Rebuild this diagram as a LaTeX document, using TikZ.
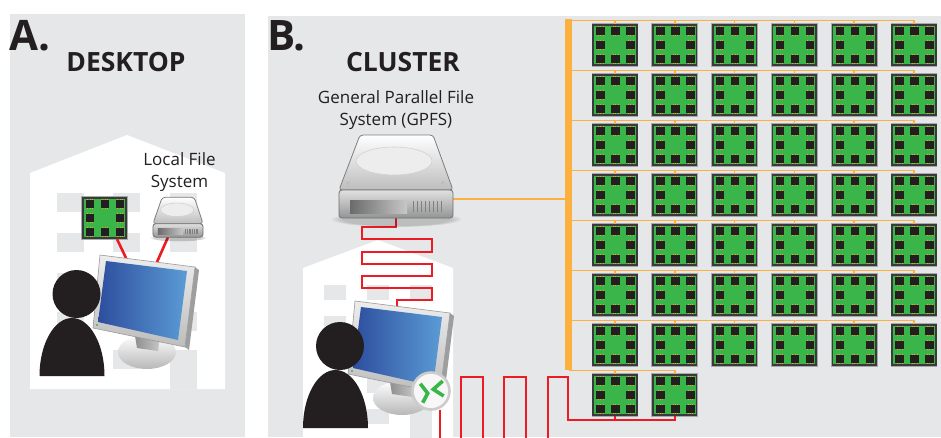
\documentclass[tikz,border=0pt]{standalone}
\usepackage{fontspec}
\setmainfont{Open Sans}
\usetikzlibrary{calc,fadings}

\definecolor{panel}{HTML}{E6E7E8}
\definecolor{ink}{HTML}{231F20}
\definecolor{chipgreen}{HTML}{39B54A}
\definecolor{chipedge}{HTML}{3A3A3A}
\definecolor{chiphalo}{HTML}{A7A9AC}
\definecolor{pinorange}{HTML}{F6A21E}
\definecolor{busorange}{HTML}{FBB040}
\definecolor{wirered}{HTML}{ED1C24}
\definecolor{scrdark}{HTML}{2D4E9E}
\definecolor{scrlight}{HTML}{5B9BD5}
\definecolor{framelight}{HTML}{EDEDED}
\definecolor{framedark}{HTML}{BDBDBD}
\definecolor{frameedge}{HTML}{9A9A9A}
\definecolor{sidegray}{HTML}{9E9E9E}
\definecolor{diskedge}{HTML}{7E7E7E}

\tikzset{
  chipbox/.style={draw=chipedge, line width=1.6pt, fill=chipgreen,
    minimum width=43.5pt, minimum height=40.5pt, inner sep=0pt,
    preaction={draw=chiphalo, line width=3.4pt},
    path picture={
      \begin{scope}[shift={(path picture bounding box.center)}]
        \foreach \i/\j in {-14.5/-14, 0.5/-14, 15.5/-14, -14.5/0, 15.5/0,
                           -14.5/14, 0.5/14, 15.5/14} {
          \fill[ink] (\i-4.2,\j-4) rectangle (\i+4.2,\j+4);
          \foreach \p in {-2.4,0,2.4} {
            \draw[pinorange, line width=0.6pt] (\i+\p,\j-4) -- (\i+\p,\j-5.3);
            \draw[pinorange, line width=0.6pt] (\i+\p,\j+4) -- (\i+\p,\j+5.3);
          }
        }
      \end{scope}}},
  bus/.style={draw=busorange, line width=1.7pt},
  wire/.style={draw=wirered, line width=2.6pt},
  label/.style={text=ink, font=\fontsize{17}{22}\selectfont, align=center, inner sep=0pt},
  title/.style={text=ink, font=\bfseries\fontsize{26.5}{30}\selectfont, inner sep=0pt},
  letter/.style={text=ink, font=\bfseries\fontsize{42}{46}\selectfont, inner sep=0pt},
  badge/.style={circle, minimum size=37pt, inner sep=0pt},
  % hard drive, drawn about its centre
  pics/hdd/.style={code={
    \fill[black, opacity=0.18, path fading=circle with fuzzy edge 20 percent]
      (0,43) ellipse [x radius=66, y radius=8];
    \shadedraw[draw=diskedge, line width=0.8pt, top color=white, bottom color=framedark,
      rounded corners=3pt] (-36,-41) -- (37,-41) -- (57,14) -- (-57,14) -- cycle;
    \filldraw[draw=black!18, fill=white!93!black, line width=0.6pt]
      (-2,-15) ellipse [x radius=38, y radius=14];
    \fill[black!25] (-48,7) circle (2);
    \fill[black!25] (47,7) circle (2);
    \shadedraw[draw=diskedge!90!black, line width=0.8pt, top color=black!12, bottom color=black!42,
      rounded corners=3pt] (-57,14) rectangle (57,42);
    \shade[left color=black!58, right color=black!22] (-46,24) rectangle (11,37);
    \foreach \v in {17,21,...,45} \draw[black!50, line width=0.9pt] (\v,25) -- (\v,36);
  }},
  % flat screen on its foot
  pics/display/.style={code={
    \shade[top color=white, bottom color=black!28] (7,52) ellipse [x radius=29, y radius=17];
    \shade[left color=black!45, right color=black!22] (-6,30) -- (20,35) -- (18,51) -- (-3,48) -- cycle;
    \fill[sidegray] (55,-33) -- (59,-30) -- (49,50) -- (45,47) -- cycle;
    \shadedraw[draw=frameedge, line width=0.6pt, top color=framelight, bottom color=framedark]
      (-40,-45) -- (55,-33) -- (45,47) -- (-47,28) -- cycle;
    \shade[left color=scrdark, right color=scrlight] (-34,-39) -- (47,-29) -- (38,40) -- (-42,22) -- cycle;
    \fill[chipgreen] (-43,25) circle (1.2);
  }},
  % seated user, origin at the centre of the head
  pics/user/.style={code={
    \fill[ink] (0,0) circle (24);
    \fill[ink] (-37,82) .. controls (-37,50) and (-22.4,24) .. (-4.5,24)
               .. controls (13.4,24) and (28,50) .. (28,82) -- cycle;
  }},
}

\begin{document}
\begin{tikzpicture}[x=1pt,y=-1pt]
\useasboundingbox (0,0) rectangle (941,437);
\clip (0,0) rectangle (941,437);

% ---------- panel A: desktop ----------
\fill[panel] (10,14) rectangle (245,437);
\fill[white] (30,389) -- (30,173) -- (127,135) -- (225,173) -- (225,389) -- cycle;
\foreach \x in {57,113,170} \foreach \y in {193,233,273,312,350}
  \fill[panel] (\x,\y) rectangle ++(27,19);
\fill[panel] (170,350) rectangle (197,389);

\node[letter, anchor=base west] (labA) at (9,50) {A.};
\node[title, anchor=base] (desk) at (126,71) {DESKTOP};
\node[label, anchor=north] (lfs) at (179.5,152) {Local File\\System};

\coordinate (monA1) at (126,258);
\coordinate (monA2) at (157,262);
\node[chipbox] (deskchip) at (104.5,218) {};
\node[minimum width=50pt, minimum height=40pt, inner sep=0pt] (localfs) at (178,217) {};
\draw[wire] ([xshift=12.5pt]deskchip.south) -- (monA1);
\draw[wire] ([xshift=-10pt]localfs.south) -- (monA2);
\pic[xscale=0.44, yscale=0.48] at (localfs.center) {hdd};
\pic (deskmon) at (140,300) {display};
\pic (deskuser) at (76.5,294) {user};

% ---------- panel B: cluster ----------
\fill[panel] (268,16) rectangle (941,437);
\fill[white] (303,440) -- (303,268) -- (378,240) -- (453,268) -- (453,440) -- cycle;
\foreach \x in {324,367,410} \foreach \y in {285,316,347,378,409}
  \fill[panel] (\x,\y) rectangle ++(22,15);
\fill[panel] (410,409) rectangle (432,440);

\node[letter, anchor=base west] (labB) at (267,50) {B.};
\node[title, anchor=base] (clus) at (403,71) {CLUSTER};
\node[label, anchor=north] (gpfslab) at (396,90) {General Parallel File\\System (GPFS)};

% compute nodes
\foreach \r in {1,...,7} \foreach \c in {1,...,6}
  \node[chipbox] (c-\r-\c) at ({615+(\c-1)*59.8},{45+(\r-1)*50}) {};
\node[chipbox] (c-8-1) at (615,395) {};
\node[chipbox] (c-8-2) at (674.8,395) {};

% storage bus
\coordinate (bar) at (568.5,20);
\fill[busorange] (565,18.5) rectangle (572,370);
\foreach \r in {1,...,7} {
  \coordinate (b\r) at ($(c-\r-1.north)+(0,-3.5)$);
  \draw[bus] (bar |- b\r) -| (c-\r-6.north);
  \foreach \c in {1,...,5} \draw[bus] (b\r -| c-\r-\c.north) -- (c-\r-\c.north);
}
\coordinate (b8) at ($(c-8-1.north)+(0,-3.5)$);
\draw[bus] (bar |- b8) -| (c-8-2.north);
\draw[bus] (b8 -| c-8-1.north) -- (c-8-1.north);

% GPFS storage
\node[minimum width=114pt, minimum height=84pt, inner sep=0pt] (gpfs) at (396,176) {};
\draw[bus, line width=2pt] ([yshift=-23pt]gpfs.east) coordinate (g1) -- (g1 -| bar);
\coordinate (monB) at (397,307);
\draw[wire] (gpfs.south) |- (362,227) |- (432,239) |- (362,252) |- (432,264)
  |- (362,276) |- (432,288) |- (397,300) -- (monB);
\pic at (gpfs.center) {hdd};

% login workstation
\pic (clmon) at (395,346) {display};
\pic (cluser) at (340,346) {user};

% remote session badge and its link to the nodes
\node[badge] (remote) at (431,391) {};
\draw[wire] ([xshift=9pt]remote.south) -- ++(0,40) -| (461,377) -| (483,447)
  -| (504,377) -| (526,447) -| (548,377) -| (568,420) -| (c-8-2.south);
\draw[wire] (c-8-1.south) -- (c-8-1.south |- 568,420);
\node[badge, draw=black!20, line width=2.6pt, fill=black!3] (remoteface) at (remote.center) {};
\begin{scope}[shift={(remote.center)}]
  \draw[chipgreen, line width=3.6pt] (-10.7,-7.3) -- (-3.3,2.3) -- (-8.3,11.7);
  \draw[chipgreen, line width=3.6pt] (11.7,-10) -- (2.3,-1.7) -- (12.7,5);
\end{scope}
\end{tikzpicture}
\end{document}
